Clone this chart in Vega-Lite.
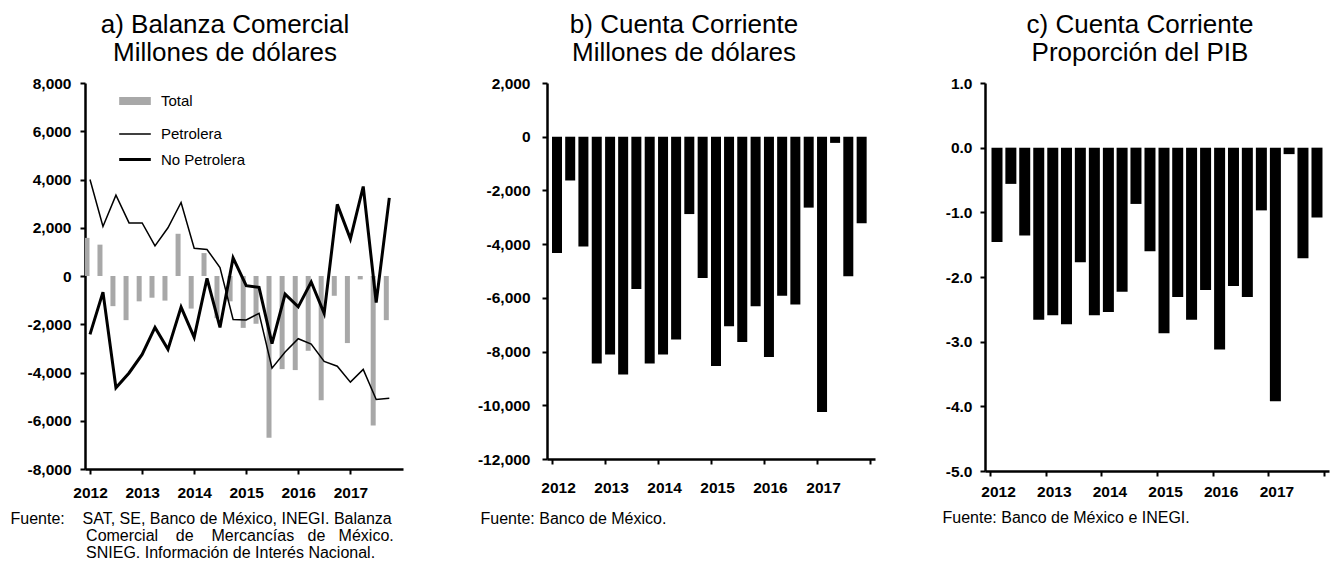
{
  "$schema": "https://vega.github.io/schema/vega-lite/v6.json",
  "padding": {"left": 10, "top": 12, "right": 5, "bottom": 5},
  "background": "white",
  "config": {
    "view": {"stroke": null},
    "font": "Liberation Sans",
    "axis": {"grid": false, "domainColor": "black", "domainWidth": 2.5, "tickColor": "black", "tickWidth": 2, "tickSize": 5, "labelColor": "black", "labelFont": "Liberation Sans", "labelFontSize": 15.5, "labelFontWeight": "bold", "labelFlush": false, "labelOverlap": false, "titleColor": "black", "titleFont": "Liberation Sans", "titleFontSize": 16, "titleFontWeight": "normal", "titleLineHeight": 17, "titleAlign": "left", "titleBaseline": "alphabetic"},
    "title": {"font": "Liberation Sans", "fontSize": 26, "fontWeight": "normal", "color": "black", "lineHeight": 28, "anchor": "middle", "frame": "group"}
  },
  "datasets": {
    "bal": [
      {"fecha": "2012-01-01", "serie": "Total", "valor": 1580},
      {"fecha": "2012-04-01", "serie": "Total", "valor": 1300},
      {"fecha": "2012-07-01", "serie": "Total", "valor": -1250},
      {"fecha": "2012-10-01", "serie": "Total", "valor": -1830},
      {"fecha": "2013-01-01", "serie": "Total", "valor": -1050},
      {"fecha": "2013-04-01", "serie": "Total", "valor": -900},
      {"fecha": "2013-07-01", "serie": "Total", "valor": -1020},
      {"fecha": "2013-10-01", "serie": "Total", "valor": 1750},
      {"fecha": "2014-01-01", "serie": "Total", "valor": -1350},
      {"fecha": "2014-04-01", "serie": "Total", "valor": 950},
      {"fecha": "2014-07-01", "serie": "Total", "valor": -1750},
      {"fecha": "2014-10-01", "serie": "Total", "valor": -1050},
      {"fecha": "2015-01-01", "serie": "Total", "valor": -2150},
      {"fecha": "2015-04-01", "serie": "Total", "valor": -1980},
      {"fecha": "2015-07-01", "serie": "Total", "valor": -6700},
      {"fecha": "2015-10-01", "serie": "Total", "valor": -3860},
      {"fecha": "2016-01-01", "serie": "Total", "valor": -3900},
      {"fecha": "2016-04-01", "serie": "Total", "valor": -3100},
      {"fecha": "2016-07-01", "serie": "Total", "valor": -5150},
      {"fecha": "2016-10-01", "serie": "Total", "valor": -820},
      {"fecha": "2017-01-01", "serie": "Total", "valor": -2780},
      {"fecha": "2017-04-01", "serie": "Total", "valor": -140},
      {"fecha": "2017-07-01", "serie": "Total", "valor": -6200},
      {"fecha": "2017-10-01", "serie": "Total", "valor": -1830},
      {"fecha": "2012-01-01", "serie": "Petrolera", "valor": 4000},
      {"fecha": "2012-04-01", "serie": "Petrolera", "valor": 2050},
      {"fecha": "2012-07-01", "serie": "Petrolera", "valor": 3350},
      {"fecha": "2012-10-01", "serie": "Petrolera", "valor": 2200},
      {"fecha": "2013-01-01", "serie": "Petrolera", "valor": 2200},
      {"fecha": "2013-04-01", "serie": "Petrolera", "valor": 1250},
      {"fecha": "2013-07-01", "serie": "Petrolera", "valor": 2000},
      {"fecha": "2013-10-01", "serie": "Petrolera", "valor": 3050},
      {"fecha": "2014-01-01", "serie": "Petrolera", "valor": 1150},
      {"fecha": "2014-04-01", "serie": "Petrolera", "valor": 1100},
      {"fecha": "2014-07-01", "serie": "Petrolera", "valor": 350},
      {"fecha": "2014-10-01", "serie": "Petrolera", "valor": -1800},
      {"fecha": "2015-01-01", "serie": "Petrolera", "valor": -1820},
      {"fecha": "2015-04-01", "serie": "Petrolera", "valor": -1550},
      {"fecha": "2015-07-01", "serie": "Petrolera", "valor": -3820},
      {"fecha": "2015-10-01", "serie": "Petrolera", "valor": -3150},
      {"fecha": "2016-01-01", "serie": "Petrolera", "valor": -2600},
      {"fecha": "2016-04-01", "serie": "Petrolera", "valor": -2820},
      {"fecha": "2016-07-01", "serie": "Petrolera", "valor": -3540},
      {"fecha": "2016-10-01", "serie": "Petrolera", "valor": -3740},
      {"fecha": "2017-01-01", "serie": "Petrolera", "valor": -4400},
      {"fecha": "2017-04-01", "serie": "Petrolera", "valor": -3870},
      {"fecha": "2017-07-01", "serie": "Petrolera", "valor": -5120},
      {"fecha": "2017-10-01", "serie": "Petrolera", "valor": -5070},
      {"fecha": "2012-01-01", "serie": "No Petrolera", "valor": -2420},
      {"fecha": "2012-04-01", "serie": "No Petrolera", "valor": -670},
      {"fecha": "2012-07-01", "serie": "No Petrolera", "valor": -4630},
      {"fecha": "2012-10-01", "serie": "No Petrolera", "valor": -4020},
      {"fecha": "2013-01-01", "serie": "No Petrolera", "valor": -3250},
      {"fecha": "2013-04-01", "serie": "No Petrolera", "valor": -2130},
      {"fecha": "2013-07-01", "serie": "No Petrolera", "valor": -3040},
      {"fecha": "2013-10-01", "serie": "No Petrolera", "valor": -1290},
      {"fecha": "2014-01-01", "serie": "No Petrolera", "valor": -2540},
      {"fecha": "2014-04-01", "serie": "No Petrolera", "valor": -100},
      {"fecha": "2014-07-01", "serie": "No Petrolera", "valor": -2130},
      {"fecha": "2014-10-01", "serie": "No Petrolera", "valor": 750},
      {"fecha": "2015-01-01", "serie": "No Petrolera", "valor": -400},
      {"fecha": "2015-04-01", "serie": "No Petrolera", "valor": -470},
      {"fecha": "2015-07-01", "serie": "No Petrolera", "valor": -2800},
      {"fecha": "2015-10-01", "serie": "No Petrolera", "valor": -750},
      {"fecha": "2016-01-01", "serie": "No Petrolera", "valor": -1280},
      {"fecha": "2016-04-01", "serie": "No Petrolera", "valor": -250},
      {"fecha": "2016-07-01", "serie": "No Petrolera", "valor": -1550},
      {"fecha": "2016-10-01", "serie": "No Petrolera", "valor": 2970},
      {"fecha": "2017-01-01", "serie": "No Petrolera", "valor": 1540},
      {"fecha": "2017-04-01", "serie": "No Petrolera", "valor": 3710},
      {"fecha": "2017-07-01", "serie": "No Petrolera", "valor": -1100},
      {"fecha": "2017-10-01", "serie": "No Petrolera", "valor": 3240}
    ],
    "cc": [
      {"fecha": "2012-01-01", "valor": -4330},
      {"fecha": "2012-04-01", "valor": -1630},
      {"fecha": "2012-07-01", "valor": -4090},
      {"fecha": "2012-10-01", "valor": -8440},
      {"fecha": "2013-01-01", "valor": -8110},
      {"fecha": "2013-04-01", "valor": -8850},
      {"fecha": "2013-07-01", "valor": -5670},
      {"fecha": "2013-10-01", "valor": -8440},
      {"fecha": "2014-01-01", "valor": -8110},
      {"fecha": "2014-04-01", "valor": -7550},
      {"fecha": "2014-07-01", "valor": -2880},
      {"fecha": "2014-10-01", "valor": -5260},
      {"fecha": "2015-01-01", "valor": -8540},
      {"fecha": "2015-04-01", "valor": -7060},
      {"fecha": "2015-07-01", "valor": -7640},
      {"fecha": "2015-10-01", "valor": -6310},
      {"fecha": "2016-01-01", "valor": -8200},
      {"fecha": "2016-04-01", "valor": -5920},
      {"fecha": "2016-07-01", "valor": -6250},
      {"fecha": "2016-10-01", "valor": -2640},
      {"fecha": "2017-01-01", "valor": -10250},
      {"fecha": "2017-04-01", "valor": -230},
      {"fecha": "2017-07-01", "valor": -5200},
      {"fecha": "2017-10-01", "valor": -3220}
    ],
    "pib": [
      {"fecha": "2012-01-01", "valor": -1.46},
      {"fecha": "2012-04-01", "valor": -0.56},
      {"fecha": "2012-07-01", "valor": -1.36},
      {"fecha": "2012-10-01", "valor": -2.66},
      {"fecha": "2013-01-01", "valor": -2.59},
      {"fecha": "2013-04-01", "valor": -2.73},
      {"fecha": "2013-07-01", "valor": -1.77},
      {"fecha": "2013-10-01", "valor": -2.59},
      {"fecha": "2014-01-01", "valor": -2.54},
      {"fecha": "2014-04-01", "valor": -2.23},
      {"fecha": "2014-07-01", "valor": -0.87},
      {"fecha": "2014-10-01", "valor": -1.6},
      {"fecha": "2015-01-01", "valor": -2.87},
      {"fecha": "2015-04-01", "valor": -2.31},
      {"fecha": "2015-07-01", "valor": -2.66},
      {"fecha": "2015-10-01", "valor": -2.2},
      {"fecha": "2016-01-01", "valor": -3.12},
      {"fecha": "2016-04-01", "valor": -2.14},
      {"fecha": "2016-07-01", "valor": -2.31},
      {"fecha": "2016-10-01", "valor": -0.97},
      {"fecha": "2017-01-01", "valor": -3.92},
      {"fecha": "2017-04-01", "valor": -0.1},
      {"fecha": "2017-07-01", "valor": -1.71},
      {"fecha": "2017-10-01", "valor": -1.08}
    ]
  },
  "spacing": 74,
  "hconcat": [
    {
      "width": 318,
      "height": 386,
      "title": {"text": ["a) Balanza Comercial", "Millones de dólares"], "dx": -19, "offset": 10},
      "data": {"name": "bal"},
      "encoding": {
        "x": {"field": "fecha", "type": "temporal",
          "scale": {"type": "utc", "domain": [{"year": 2012, "month": 1, "date": 1, "utc": true}, {"year": 2017, "month": 12, "date": 1, "utc": true}]},
          "axis": {
            "values": [{"year": 2012, "utc": true}, {"year": 2013, "utc": true}, {"year": 2014, "utc": true}, {"year": 2015, "utc": true}, {"year": 2016, "utc": true}, {"year": 2017, "utc": true}],
            "labelExpr": "utcFormat(datum.value, '%Y')",
            "labelPadding": 11,
            "title": ["Fuente:\u00a0\u00a0\u00a0\u00a0SAT, SE, Banco de México, INEGI. Balanza", "\u200b\u00a0\u00a0\u00a0\u00a0\u00a0\u00a0\u00a0\u00a0\u00a0\u00a0\u00a0\u00a0\u00a0\u00a0\u00a0\u00a0\u00a0Comercial\u00a0\u00a0\u00a0\u00a0de\u00a0\u00a0\u00a0\u00a0Mercancías\u00a0\u00a0\u00a0de\u00a0\u00a0\u00a0México.", "\u200b\u00a0\u00a0\u00a0\u00a0\u00a0\u00a0\u00a0\u00a0\u00a0\u00a0\u00a0\u00a0\u00a0\u00a0\u00a0\u00a0\u00a0SNIEG. Información de Interés Nacional."],
            "titleX": -75,
            "titleY": 54
          }
        },
        "y": {"field": "valor", "type": "quantitative",
          "scale": {"domain": [-8000, 8000]},
          "axis": {"values": [-8000, -6000, -4000, -2000, 0, 2000, 4000, 6000, 8000], "labelExpr": "replace(format(datum.value, ','), '\u2212', '-')", "labelPadding": 9, "title": null}
        }
      },
      "layer": [
        {
          "transform": [{"filter": "datum.serie == 'Total'"}],
          "mark": {"type": "bar", "width": 5, "xOffset": -3, "clip": true},
          "encoding": {
            "color": {"field": "serie", "type": "nominal",
              "scale": {"domain": ["Total", "Petrolera", "No Petrolera"], "range": ["#a8a8a8", "#000000", "#000000"]},
              "legend": {"orient": "none", "legendX": 30, "legendY": -2, "title": null, "symbolType": "stroke", "symbolSize": 1000, "rowPadding": 0, "labelFont": "Liberation Sans", "labelFontSize": 15, "labelColor": "black", "labelOffset": 6}
            }
          }
        },
        {
          "transform": [{"filter": "datum.serie != 'Total'"}],
          "mark": {"type": "line"},
          "encoding": {
            "color": {"field": "serie", "type": "nominal",
              "scale": {"domain": ["Total", "Petrolera", "No Petrolera"], "range": ["#a8a8a8", "#000000", "#000000"]}},
            "strokeWidth": {"field": "serie", "type": "nominal",
              "scale": {"type": "ordinal", "domain": ["Total", "Petrolera", "No Petrolera"], "range": [8, 1.5, 3]}}
          }
        },
        {
          "data": {"values": [{}]},
          "mark": {"type": "rule", "color": "black", "strokeWidth": 3},
          "encoding": {"y": {"datum": 0}, "x": null}
        },
        {
          "data": {"values": [{}]},
          "mark": {"type": "text", "text": "IV Trim.", "align": "right", "baseline": "bottom", "dy": -1, "font": "Liberation Sans", "fontSize": 15, "color": "black"},
          "encoding": {"x": {"datum": {"year": 2017, "month": 12, "date": 1, "utc": true}, "type": "temporal"}, "y": {"datum": -8000}}
        }
      ]
    },
    {
      "spacing": 65,
      "hconcat": [
        {
          "width": 328,
          "height": 376,
          "title": {"text": ["b) Cuenta Corriente", "Millones de dólares"], "dx": -27, "offset": 10},
          "data": {"name": "cc"},
          "encoding": {
            "x": {"field": "fecha", "type": "temporal",
              "scale": {"type": "utc", "domain": [{"year": 2012, "month": 1, "date": 1, "utc": true}, {"year": 2018, "month": 1, "date": 1, "utc": true}]},
              "axis": {
                "values": [{"year": 2012, "utc": true}, {"year": 2013, "utc": true}, {"year": 2014, "utc": true}, {"year": 2015, "utc": true}, {"year": 2016, "utc": true}, {"year": 2017, "utc": true}, {"year": 2018, "utc": true}],
                "labelExpr": "utcyear(datum.value) >= 2018 ? '' : utcFormat(datum.value, '%Y')",
                "labelPadding": 16,
                "labelOffset": 6,
                "title": "Fuente: Banco de México.",
                "titleX": -67,
                "titleY": 64
              }
            },
            "y": {"field": "valor", "type": "quantitative",
              "scale": {"domain": [-12000, 2000]},
              "axis": {"values": [-12000, -10000, -8000, -6000, -4000, -2000, 0, 2000], "labelExpr": "replace(format(datum.value, ','), '\u2212', '-')", "labelPadding": 12, "title": null}
            }
          },
          "layer": [
            {"mark": {"type": "bar", "width": 10, "xOffset": 5, "color": "black"}},
            {
              "data": {"values": [{}]},
              "mark": {"type": "rule", "color": "black", "strokeWidth": 2},
              "encoding": {"y": {"datum": 0}, "x": null}
            },
            {
              "data": {"values": [{}]},
              "mark": {"type": "text", "text": "IV Trim.", "align": "right", "baseline": "bottom", "dy": -1, "font": "Liberation Sans", "fontSize": 15, "color": "black"},
              "encoding": {"x": {"datum": {"year": 2018, "month": 1, "date": 1, "utc": true}, "type": "temporal"}, "y": {"datum": -12000}}
            }
          ]
        },
        {
          "width": 344,
          "height": 388,
          "title": {"text": ["c) Cuenta Corriente", "Proporción del PIB"], "dx": -17, "offset": 10},
          "data": {"name": "pib"},
          "encoding": {
            "x": {"field": "fecha", "type": "temporal",
              "scale": {"type": "utc", "domain": [{"year": 2012, "month": 1, "date": 1, "utc": true}, {"year": 2018, "month": 1, "date": 1, "utc": true}]},
              "axis": {
                "values": [{"year": 2012, "utc": true}, {"year": 2013, "utc": true}, {"year": 2014, "utc": true}, {"year": 2015, "utc": true}, {"year": 2016, "utc": true}, {"year": 2017, "utc": true}, {"year": 2018, "utc": true}],
                "labelExpr": "utcyear(datum.value) >= 2018 ? '' : utcFormat(datum.value, '%Y')",
                "labelPadding": 8,
                "labelOffset": 8,
                "title": "Fuente: Banco de México e INEGI.",
                "titleX": -43,
                "titleY": 51
              }
            },
            "y": {"field": "valor", "type": "quantitative",
              "scale": {"domain": [-5, 1]},
              "axis": {"values": [-5, -4, -3, -2, -1, 0, 1], "labelExpr": "replace(format(datum.value, '.1f'), '\u2212', '-')", "labelPadding": 8, "title": null}
            }
          },
          "layer": [
            {"mark": {"type": "bar", "width": 11, "xOffset": 7, "color": "black"}},
            {
              "data": {"values": [{}]},
              "mark": {"type": "rule", "color": "black", "strokeWidth": 2},
              "encoding": {"y": {"datum": 0}, "x": null}
            },
            {
              "data": {"values": [{}]},
              "mark": {"type": "text", "text": "IV Trim.", "align": "right", "baseline": "bottom", "dy": -1, "font": "Liberation Sans", "fontSize": 15, "color": "black"},
              "encoding": {"x": {"datum": {"year": 2018, "month": 1, "date": 1, "utc": true}, "type": "temporal"}, "y": {"datum": -5}}
            }
          ]
        }
      ]
    }
  ]
}
